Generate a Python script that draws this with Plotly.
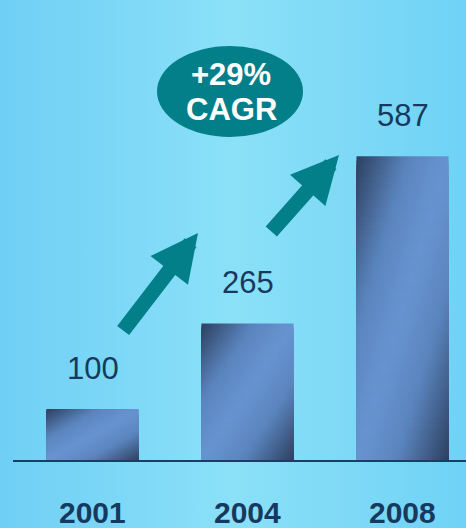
"""Revenue growth bar chart with CAGR callout."""

import plotly.graph_objects as go

# ---- data -------------------------------------------------------------
years = ["2001", "2004", "2008"]
values = [100, 265, 587]
cagr_label = ["+29%", "CAGR"]

# ---- canvas geometry (pixels) ----------------------------------------
W, H = 466, 528
X0_PX = 92.5        # centre of first category
STEP_PX = 155.0     # distance between categories
BASE_PX = 461.0     # baseline y
PPU = 0.519         # pixels per value unit
BAR_W = 0.594       # bar width in category units

TEXT_COL = "#163a5f"
TEAL = "#037f8a"
FONT = "Liberation Sans, Arial, sans-serif"


def px_x(px):
    return (px - X0_PX) / STEP_PX


def px_y(py):
    return (BASE_PX - py) / PPU


x_range = [px_x(0), px_x(W)]
y_range = [px_y(H), px_y(0)]


def _hex(c):
    c = c.lstrip("#")
    return [int(c[i:i + 2], 16) for i in (0, 2, 4)]


def _mix(stops, s):
    """Interpolate a colour along (pos, hex) stops."""
    for (p0, c0), (p1, c1) in zip(stops, stops[1:]):
        if p0 <= s <= p1:
            f = 0 if p1 == p0 else (s - p0) / (p1 - p0)
            a, b = _hex(c0), _hex(c1)
            r = [round(a[k] + (b[k] - a[k]) * f) for k in range(3)]
            return f"rgb({r[0]},{r[1]},{r[2]})"
    return stops[-1][1]


bar_stops = [(0.0, "#2c3f5f"), (0.28, "#5a84bd"), (0.5, "#6794d0"),
             (0.72, "#5a84bd"), (1.0, "#2c3f5f")]
bg_stops = [(0.0, "#70cff5"), (0.35, "#82dbf7"), (0.5, "#8ae1f8"),
            (0.75, "#7ed9f6"), (1.0, "#6fd2f6")]

fig = go.Figure()

# background wash
fig.add_trace(go.Scatter(
    x=[x_range[0], x_range[1], x_range[1], x_range[0], x_range[0]],
    y=[y_range[0], y_range[0], y_range[1], y_range[1], y_range[0]],
    fill="toself", mode="lines", line=dict(width=0),
    fillgradient=dict(type="horizontal",
                      colorscale=[[p, c] for p, c in bg_stops]),
    hoverinfo="skip", showlegend=False,
))

# bars: diagonal gradient built from stacked horizontal slices
N_SLICES = 70
for i, v in enumerate(values):
    left, right = i - BAR_W / 2, i + BAR_W / 2
    for k in range(N_SLICES):
        t = (k + 0.5) / N_SLICES          # 0 = top, 1 = bottom
        top = v * (1 - k / N_SLICES)
        scale = [[u / 10, _mix(bar_stops, (u / 10 + t) / 2)] for u in range(11)]
        fig.add_trace(go.Scatter(
            x=[left, right, right, left, left],
            y=[0, 0, top, top, 0],
            fill="toself", mode="lines", line=dict(width=0),
            fillgradient=dict(type="horizontal", colorscale=scale),
            hoverinfo="skip", showlegend=False,
        ))

annotations = []
for i, (yr, v) in enumerate(zip(years, values)):
    annotations.append(dict(x=i, y=v, text=str(v), showarrow=False,
                            yshift=41, yanchor="middle",
                            font=dict(family=FONT, size=31, color=TEXT_COL)))
    annotations.append(dict(x=i, y=0, text=f"<b>{yr}</b>", showarrow=False,
                            yshift=-51, yanchor="middle",
                            font=dict(family=FONT, size=30, color=TEXT_COL)))

# growth arrows (tail px -> tip px)
arrows = [((122, 332), (198, 233)), ((270, 233), (339, 155))]
for (tx, ty), (hx, hy) in arrows:
    annotations.append(dict(
        x=px_x(hx), y=px_y(hy), ax=px_x(tx), ay=px_y(ty),
        xref="x", yref="y", axref="x", ayref="y", text="",
        showarrow=True, arrowhead=2, arrowsize=0.63, arrowwidth=15,
        arrowcolor=TEAL,
    ))

# CAGR text in the ellipse
for line, py in zip(cagr_label, [74, 109.5]):
    annotations.append(dict(x=px_x(231), y=px_y(py), text=f"<b>{line}</b>",
                            showarrow=False, yanchor="middle",
                            font=dict(family=FONT, size=31, color="white")))

shapes = [
    # baseline
    dict(type="line", xref="paper", yref="y", x0=13 / W, x1=1, y0=0, y1=0,
         line=dict(color="#1b3d63", width=2)),
    # CAGR ellipse
    dict(type="circle", xref="x", yref="y",
         x0=px_x(157), x1=px_x(303), y0=px_y(137), y1=px_y(46),
         fillcolor=TEAL, line=dict(width=0), layer="above"),
]

fig.update_layout(
    width=W, height=H,
    margin=dict(l=0, r=0, t=0, b=0),
    paper_bgcolor="#7ad6f5", plot_bgcolor="#7ad6f5",
    xaxis=dict(range=x_range, visible=False, fixedrange=True),
    yaxis=dict(range=y_range, visible=False, fixedrange=True),
    annotations=annotations,
    shapes=shapes,
    showlegend=False,
)

fig.write_html(
    "out.html",
    config={"displayModeBar": False},
    post_script="document.body.style.margin='0';document.body.style.overflow='hidden';",
)
